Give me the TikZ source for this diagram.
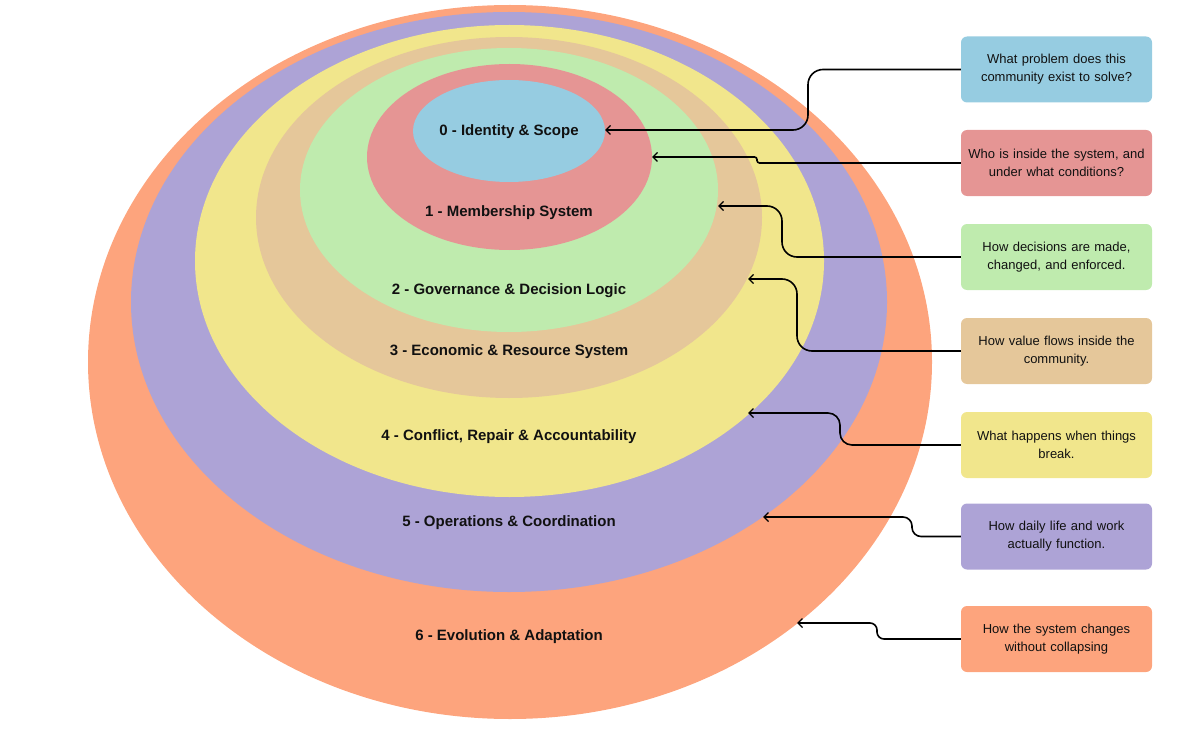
\documentclass[tikz,border=0pt]{standalone}
\usepackage{fontspec}
\setmainfont{Liberation Sans}
\usetikzlibrary{arrows.meta}
\definecolor{cOr}{HTML}{FDA47D}
\definecolor{cPu}{HTML}{ADA3D6}
\definecolor{cYe}{HTML}{F1E68C}
\definecolor{cTa}{HTML}{E5C79A}
\definecolor{cGr}{HTML}{BFEBAE}
\definecolor{cRe}{HTML}{E59594}
\definecolor{cBl}{HTML}{96CCE1}
\definecolor{ink}{HTML}{111111}
\tikzset{
  layer/.style={draw=none, fill=#1},
  lab/.style={font=\fontsize{15}{18}\selectfont\bfseries, text=ink, inner sep=0pt},
  qbox/.style={fill=#1, draw=none, rounded corners=6pt, minimum width=191pt, minimum height=66pt,
    text width=182pt, align=center, inner sep=0pt, font=\fontsize{13}{18}\selectfont, text=ink},
  conn/.style={draw=black, line width=1.6pt, -{Straight Barb[length=4.5pt,width=9pt,line width=1.4pt]}},
}
\begin{document}
\begin{tikzpicture}[x=1pt,y=-1pt]
\useasboundingbox (0,0) rectangle (1201,746);
% layers
\fill[layer=cOr] (510,362) ellipse [x radius=422, y radius=357];
\fill[layer=cPu] (509,302) ellipse [x radius=378, y radius=290];
\fill[layer=cYe] (509.5,261) ellipse [x radius=314.5, y radius=236];
\fill[layer=cTa] (509,217.5) ellipse [x radius=253, y radius=180.5];
\fill[layer=cGr] (509,190) ellipse [x radius=209, y radius=142];
\fill[layer=cRe] (509.5,157) ellipse [x radius=142.5, y radius=93];
\fill[layer=cBl] (509,131) ellipse [x radius=96, y radius=51];
% labels
\node[lab] (l0) at (509,132) {0 - Identity \& Scope};
\node[lab] (l1) at (509,213) {1 - Membership System};
\node[lab] (l2) at (509,291) {2 - Governance \& Decision Logic};
\node[lab] (l3) at (509,352) {3 - Economic \& Resource System};
\node[lab] (l4) at (509,437) {4 - Conflict, Repair \& Accountability};
\node[lab] (l5) at (509,523) {5 - Operations \& Coordination};
\node[lab] (l6) at (509,637) {6 - Evolution \& Adaptation};
% boxes
\node[qbox=cBl] (b0) at (1056.5,69.5) {What problem does this\\community exist to solve?};
\node[qbox=cRe] (b1) at (1056.5,163) {Who is inside the system, and\\under what conditions?};
\node[qbox=cGr] (b2) at (1056.5,257) {How decisions are made,\\changed, and enforced.};
\node[qbox=cTa] (b3) at (1056.5,351) {How value flows inside the\\community.};
\node[qbox=cYe] (b4) at (1056.5,445) {What happens when things\\break.};
\node[qbox=cPu] (b5) at (1056.5,536.5) {How daily life and work\\actually function.};
\node[qbox=cOr] (b6) at (1056.5,639) {How the system changes\\without collapsing};
% tips and elbows
\coordinate (t0) at (605,130);
\coordinate (t1) at (652,157);
\coordinate (t2) at (718,206);
\coordinate (t3) at (748,279);
\coordinate (t4) at (748,413);
\coordinate (t5) at (763,517);
\coordinate (t6) at (797,623);
\coordinate (k0) at (808,130);
\coordinate (k1) at (757,157);
\coordinate (k2) at (782,206);
\coordinate (k3) at (797,279);
\coordinate (k4) at (840,413);
\coordinate (k5) at (912,517);
\coordinate (k6) at (877,623);
% connectors
\draw[conn, rounded corners=15pt] (b0.west) -| (k0) -- (t0);
\draw[conn, rounded corners=2.5pt] (b1.west) -| (k1) -- (t1);
\draw[conn, rounded corners=15pt] (b2.west) -| (k2) -- (t2);
\draw[conn, rounded corners=15pt] (b3.west) -| (k3) -- (t3);
\draw[conn, rounded corners=12pt] (b4.west) -| (k4) -- (t4);
\draw[conn, rounded corners=9pt] (b5.west) -| (k5) -- (t5);
\draw[conn, rounded corners=7pt] (b6.west) -| (k6) -- (t6);
\end{tikzpicture}
\end{document}
